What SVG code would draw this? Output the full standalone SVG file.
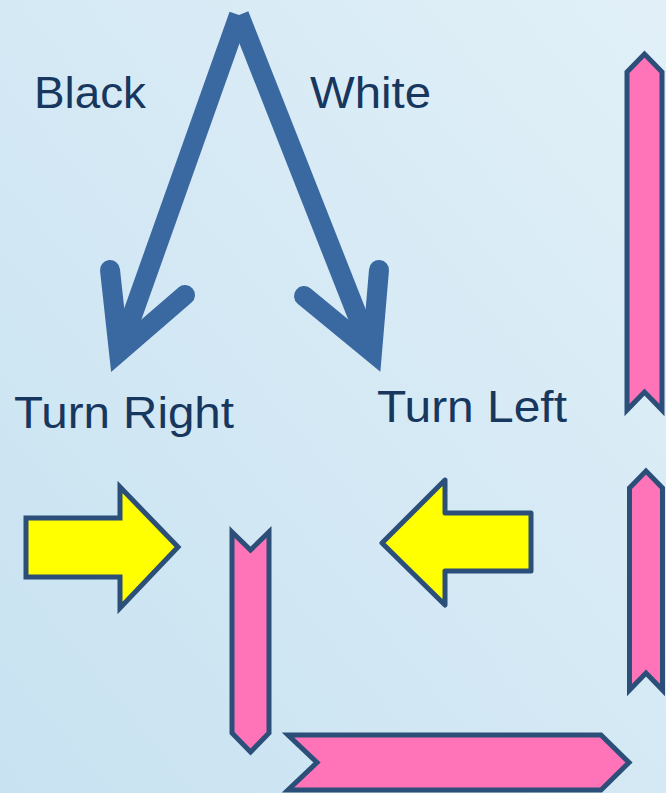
<svg xmlns="http://www.w3.org/2000/svg" width="666" height="793" viewBox="0 0 666 793">
<defs>
<linearGradient id="bg" x1="0" y1="1" x2="1" y2="0">
<stop offset="0" stop-color="#c8e2f1"/>
<stop offset="1" stop-color="#e1f0f8"/>
</linearGradient>
<style>
.lbl{font-family:"Liberation Sans",Arial,sans-serif;font-size:45px;fill:#17375e}
.flow{fill:none;stroke:#3a68a0;stroke-width:20}
.ribbon{fill:#ff73b9;stroke:#2b4f78;stroke-width:5;stroke-linejoin:miter}
.yarrow{fill:#ffff00;stroke:#2b4f78;stroke-width:5}
</style>
</defs>
<rect width="666" height="793" fill="url(#bg)"/>
<g id="connectors">
<line class="flow" x1="239" y1="15" x2="120" y2="350" stroke-linecap="butt"/>
<line class="flow" x1="239" y1="15" x2="371" y2="350" stroke-linecap="butt"/>
<polyline class="flow" points="110,270 119,352 185,295" stroke-linecap="round" stroke-linejoin="miter" stroke-miterlimit="10"/>
<polyline class="flow" points="379,270 372,352 304,296" stroke-linecap="round" stroke-linejoin="miter" stroke-miterlimit="10"/>
</g>
<g id="label-black"><text class="lbl" x="34" y="108" textLength="112" lengthAdjust="spacingAndGlyphs">Black</text></g>
<g id="label-white"><text class="lbl" x="310" y="108" textLength="121" lengthAdjust="spacingAndGlyphs">White</text></g>
<g id="label-turn-right"><text class="lbl" x="14" y="428" textLength="220" lengthAdjust="spacingAndGlyphs">Turn Right</text></g>
<g id="label-turn-left"><text class="lbl" x="377" y="422" textLength="190" lengthAdjust="spacingAndGlyphs">Turn Left</text></g>
<g id="arrow-right"><polygon class="yarrow" points="26,518 120,518 120,487 178,547 120,608 120,577 26,577" stroke-linejoin="miter"/></g>
<g id="arrow-left"><polygon class="yarrow" points="531,513 445,513 445,480 382,543 445,605 445,571 531,571" stroke-linejoin="round"/></g>
<g id="ribbon-top-right"><polygon class="ribbon" points="627,72 644.5,54 662,72 662,410 644.5,392 627,410"/></g>
<g id="ribbon-mid-right"><polygon class="ribbon" points="629.5,488 646,471 662.5,488 662.5,690 646,673 629.5,690"/></g>
<g id="ribbon-down"><polygon class="ribbon" points="232,532 250.5,550 269,532 269,733 250.5,752 232,733"/></g>
<g id="ribbon-bottom"><polygon class="ribbon" points="288,735 601,735 629,762.5 601,790 288,790 317,762.5"/></g>
</svg>
